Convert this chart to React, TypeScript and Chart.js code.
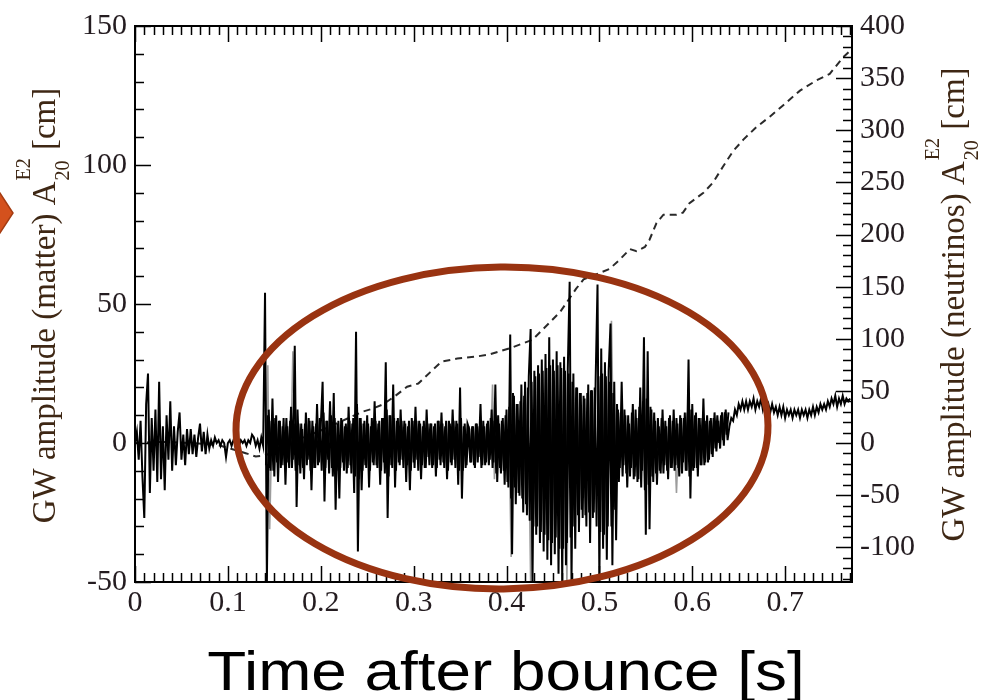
import { useEffect, useRef } from "react";
import { Chart, registerables } from "chart.js";

Chart.register(...registerables);

// Matter signal, sampled every 2 ms after bounce (cm)
const SIGNAL_START = 0;
const SIGNAL_STEP = 0.002;
const matterSignal = [
  0, 4, -6, 8, -12, -27, 14, 25, -18, 9,
  -10, 12, -14, 22, -13, 6, -17, 10, -6, 15,
  -10, 6, -8, 4, 11, -6, 3, -8, 5, -4,
  5, -4, 3, -5, 2, 7, -3, 4, -4, 3,
  -2, 1, -1, 2, 0, 1, -1, 1, 0, -5,
  0, 1, -1, 1, 0, 2, -1, 1, 0, 1,
  -1, 1, 0, 3, 2, -1, 1, -2, 2, -1,
  54, -50, 12, -10, 16, -12, 10, -14, 8, -8,
  9, -15, 6, -9, 13, -6, 35, -23, 7, -11,
  5, -13, 11, -6, 8, -17, 6, -9, 14, -7,
  6, 22, -21, 8, -6, 15, -9, 18, -24, 7,
  -20, 9, -7, 6, -11, 13, -8, 7, -18, 40,
  -39, 9, -17, 7, -8, 10, -16, 6, -7, 15,
  -8, 7, -15, 9, -7, 29, -27, 10, -8, 21,
  -16, 8, -7, 12, -6, 8, -14, 6, -17, 9,
  -7, 13, -6, 8, -13, 6, -9, 12, -5, 7,
  -9, 6, -12, 8, -6, 11, -7, 6, -13, 8,
  -7, 12, -6, 8, -15, 20, -20, 6, -9, 7,
  5, -7, 6, -9, 7, -5, 14, -8, 6, -7,
  8, -6, 12, -7, 21, -14, 7, -11, 9, -15,
  12, -16, 39, -40, 17, -22, 14, -19, 21, -25,
  22, -26, 24, 41, -50, 26, -33, 28, -36, 30,
  -39, 32, -42, 38, -44, 30, -40, 33, -47, 29,
  -50, 31, -44, 27, 58, -50, 25, -38, 20, -32,
  18, -27, 16, -30, 21, -36, 19, -25, 23, 57,
  -50, 34, -38, 29, -42, 26, 43, -44, 22, -35,
  12, -9, 22, -8, 10, -16, 7, -9, 14, -12,
  9, -13, 20, -10, 38, -33, 33, -31, 12, -14,
  8, -15, 6, -11, 12, -8, 6, -13, 10, -9,
  12, -8, 7, -12, 9, -7, 11, -10, 30, -20,
  14, -9, 11, -12, 9, -8, 16, -7, 10, -6,
  9, -5, 11, -3, 8, -2, 11, -1, 12, 1,
  6, 9, 8, 12, 10, 14, 12, 15, 12, 15,
  12, 15, 13, 16, 12, 15, 13, 16, 12, 15,
  12, 14, 11, 14, 11, 13, 10, 13, 10, 13,
  9, 12, 10, 12, 9, 12, 10, 12, 9, 12,
  10, 12, 9, 12, 10, 13, 10, 13, 11, 14,
  12, 14, 12, 15, 13, 16, 14, 17, 13, 16,
  14, 17, 14, 16, 15, 16,
];

// In-between samples of the same signal during the turbulent phase (cm)
const CORE_START = 0.141;
const CORE_STEP = 0.002;
const matterCoreSignal = [
  -8, 10, -9, 8, -10, 9, -7, 8, -9, 6,
  -8, 9, -7, 8, -9, 7, -10, 12, -8, 7,
  -9, 7, -8, 9, -10, 8, -9, 7, -8, 9,
  -10, 11, -9, 8, -11, 10, -12, 9, -10, 8,
  -9, 8, -10, 7, -9, 8, -11, 9, -12, 14,
  -13, 9, -10, 8, -9, 7, -10, 9, -8, 8,
  -9, 8, -10, 9, -11, 12, -12, 10, -9, 9,
  -10, 9, -8, 8, -9, 7, -8, 8, -10, 8,
  -9, 8, -10, 7, -8, 8, -9, 7, -8, 7,
  -8, 7, -9, 8, -8, 7, -9, 8, -10, 7,
  -8, 8, -9, 7, -10, 9, -10, 7, -8, 6,
  -7, 6, -8, 7, -7, 6, -9, 8, -8, 7,
  -8, 9, -9, 8, -11, 10, -9, 8, -10, 10,
  -14, 13, -20, 18, -16, 14, -18, 15, -20, 17,
  -22, 20, -28, 22, -30, 24, -30, 25, -32, 26,
  -33, 27, -35, 28, -36, 26, -34, 28, -38, 27,
  -38, 26, -36, 25, -34, 22, -30, 20, -26, 18,
  -24, 17, -26, 18, -25, 19, -27, 20, -30, 24,
  -32, 25, -33, 24, -30, 22, -30, 18, -24, 14,
  -14, 11, -12, 12, -11, 10, -12, 11, -13, 12,
  -14, 13, -16, 15, -17, 16, -15, 13, -12, 11,
  -11, 9, -10, 9, -11, 8, -10, 9, -9, 8,
  -10, 9, -9, 10, -11, 9, -10, 11, -12, 12,
  -10, 10, -9, 9, -8, 9, -8, 8, -7, 8,
  -4, 9, -2, 10, 0, 10, 1, 11, 3, 11,
];

// Second matter extraction (grey), only its isolated spikes; null breaks the line
const matterAltTimes = [
  0.141, 0.143, 0.145, 0.147, null,
  0.168, 0.170, 0.172, null,
  0.383, 0.385, 0.387, 0.389, null,
  0.403, 0.405, 0.407, null,
  0.424, 0.426, 0.428, null,
  0.463, 0.465, 0.467, null,
  0.511, 0.513, 0.515, null,
  0.581, 0.583, 0.585,
];
const matterAltValues = [
  0, 28, -31, 0, null,
  0, 33, 0, null,
  0, 21, -13, 0, null,
  0, -41, 0, null,
  0, -50, 0, null,
  0, -50, 0, null,
  0, 44, 0, null,
  0, -18, 0,
];

// Neutrino contribution (right axis, cm)
const neutrinoTimes = [
  0, 0.03, 0.06, 0.09, 0.105, 0.12, 0.13, 0.14, 0.16, 0.18,
  0.2, 0.22, 0.235, 0.245, 0.256, 0.267, 0.28, 0.293, 0.305, 0.318,
  0.33, 0.347, 0.368, 0.382, 0.404, 0.428, 0.447, 0.458, 0.475, 0.483,
  0.511, 0.522, 0.533, 0.54, 0.549, 0.554, 0.5615, 0.569, 0.583, 0.59,
  0.597, 0.612, 0.6225, 0.633, 0.644, 0.655, 0.669, 0.6835, 0.698, 0.716,
  0.734, 0.748, 0.7625, 0.772,
];
const neutrinoValues = [
  0, 1, 0, -2, -6, -10, -13, -12, -4, 5,
  12, 20, 26, 30, 33, 37, 45, 54, 57, 68,
  78, 81, 83, 85, 91, 99, 116, 126, 148, 157,
  167, 176, 186, 184, 188, 195, 211, 219, 219, 221,
  230, 240, 250, 265, 280, 291, 303, 313, 324, 338,
  348, 354, 370, 378,
];

const timeTicks = [0, 0.1, 0.2, 0.3, 0.4, 0.5, 0.6, 0.7];
const timeLabels = ["0", "0.1", "0.2", "0.3", "0.4", "0.5", "0.6", "0.7"];
const matterTicks = [-50, 0, 50, 100, 150];
const neutrinoTicks = [-100, -50, 0, 50, 100, 150, 200, 250, 300, 350, 400];

const TIME_MAX = 0.772;
const MATTER_MIN = -50;
const MATTER_MAX = 150;
const NEUTRINO_MIN = -400 / 3;
const NEUTRINO_MAX = 400;

const SERIF = '"Liberation Serif", "Times New Roman", serif';
const TICK_COLOR = "#241c20";
const TITLE_COLOR = "#3e2714";

// Inward major/minor tick marks on all four sides plus the frame
const frameTicks = {
  id: "frameTicks",
  afterDatasetsDraw(chart: any) {
    const { ctx, chartArea: a, scales } = chart;
    const xs = scales.x;
    const yl = scales.y;
    const yr = scales.y2;
    ctx.save();
    ctx.strokeStyle = "#000";
    ctx.lineWidth = 1.5;
    ctx.beginPath();
    for (let k = 0; k <= 77; k++) {
      const px = Math.round(xs.getPixelForValue(k / 100)) + 0.5;
      const len = k % 10 === 0 ? 16 : 9;
      ctx.moveTo(px, a.bottom);
      ctx.lineTo(px, a.bottom - len);
      ctx.moveTo(px, a.top);
      ctx.lineTo(px, a.top + len);
    }
    for (let v = -50; v <= 150; v += 10) {
      const py = Math.round(yl.getPixelForValue(v)) + 0.5;
      const len = v % 50 === 0 ? 16 : 9;
      ctx.moveTo(a.left, py);
      ctx.lineTo(a.left + len, py);
    }
    for (let v = -130; v <= 400; v += 10) {
      const py = Math.round(yr.getPixelForValue(v)) + 0.5;
      const len = v % 50 === 0 ? 16 : 9;
      ctx.moveTo(a.right, py);
      ctx.lineTo(a.right - len, py);
    }
    ctx.stroke();
    ctx.lineWidth = 2;
    ctx.strokeRect(a.left, a.top, a.right - a.left, a.bottom - a.top);
    ctx.restore();
  },
};

function drawVerticalTitle(ctx: CanvasRenderingContext2D, head: string, baseX: number, centerY: number) {
  const mainFont = `33px ${SERIF}`;
  const smallFont = `20px ${SERIF}`;
  ctx.save();
  ctx.translate(baseX, centerY);
  ctx.rotate(-Math.PI / 2);
  ctx.fillStyle = TITLE_COLOR;
  ctx.textAlign = "left";
  ctx.textBaseline = "alphabetic";
  ctx.font = mainFont;
  const wHead = ctx.measureText(head).width;
  const wTail = ctx.measureText(" [cm]").width;
  ctx.font = smallFont;
  const wScript = Math.max(ctx.measureText("E2").width, ctx.measureText("20").width);
  let x = -(wHead + wScript + wTail) / 2;
  ctx.font = mainFont;
  ctx.fillText(head, x, 0);
  x += wHead + 1;
  ctx.font = smallFont;
  ctx.fillText("E2", x, -25);
  ctx.fillText("20", x, 14);
  x += wScript;
  ctx.font = mainFont;
  ctx.fillText(" [cm]", x, 0);
  ctx.restore();
}

// Axis titles, the time label and the highlight ellipse
const annotations = {
  id: "annotations",
  afterDraw(chart: any) {
    const ctx: CanvasRenderingContext2D = chart.ctx;
    const a = chart.chartArea;
    drawVerticalTitle(ctx, "GW amplitude (matter) A", 55, (a.top + a.bottom) / 2 + 2);
    drawVerticalTitle(ctx, "GW amplitude (neutrinos) A", 964, (a.top + a.bottom) / 2 + 1);

    ctx.save();
    ctx.fillStyle = "#000";
    ctx.font = '56px "Liberation Sans", Arial, sans-serif';
    ctx.textAlign = "center";
    ctx.textBaseline = "alphabetic";
    ctx.translate(506, 690);
    ctx.scale(1.14, 1);
    ctx.fillText("Time after bounce [s]", 0, 0);
    ctx.restore();

    ctx.save();
    ctx.strokeStyle = "#993311";
    ctx.lineWidth = 7;
    ctx.beginPath();
    ctx.ellipse(502, 428, 266, 161, -0.01, 0, Math.PI * 2);
    ctx.stroke();
    ctx.restore();

    ctx.save();
    ctx.fillStyle = "#d4511d";
    ctx.strokeStyle = "#a53c12";
    ctx.lineWidth = 1.5;
    ctx.beginPath();
    ctx.moveTo(-2, 190);
    ctx.lineTo(13, 213);
    ctx.lineTo(-2, 236);
    ctx.closePath();
    ctx.fill();
    ctx.stroke();
    ctx.restore();
  },
};

export default function App() {
  const canvasRef = useRef<HTMLCanvasElement | null>(null);

  useEffect(() => {
    const canvas = canvasRef.current;
    if (!canvas) return;

    const matterPoints = matterSignal.map((v, i) => ({ x: SIGNAL_START + i * SIGNAL_STEP, y: v }));
    const corePoints = matterCoreSignal.map((v, i) => ({ x: CORE_START + i * CORE_STEP, y: v }));
    const altPoints = matterAltTimes.map((t, i) => ({ x: t === null ? NaN : t, y: matterAltValues[i] }));
    const neutrinoPoints = neutrinoTimes.map((t, i) => ({ x: t, y: neutrinoValues[i] }));

    const tickFont = { family: SERIF, size: 30 };

    const chart = new Chart(canvas, {
      type: "line",
      data: {
        datasets: [
          {
            data: matterPoints,
            borderColor: "#000",
            borderWidth: 2,
            pointRadius: 0,
            yAxisID: "y",
            order: 0,
          },
          {
            data: corePoints,
            borderColor: "#000",
            borderWidth: 2,
            pointRadius: 0,
            yAxisID: "y",
            order: 1,
          },
          {
            data: altPoints as any,
            borderColor: "#9c9c9c",
            borderWidth: 1.6,
            pointRadius: 0,
            spanGaps: false,
            yAxisID: "y",
            order: 2,
          },
          {
            data: neutrinoPoints,
            borderColor: "#2a2a2a",
            borderWidth: 2,
            borderDash: [7, 5],
            pointRadius: 0,
            yAxisID: "y2",
            order: 3,
          },
        ],
      },
      options: {
        animation: false,
        responsive: false,
        maintainAspectRatio: false,
        events: [],
        layout: { padding: { top: 22, left: 0, right: 0, bottom: 0 } },
        plugins: { legend: { display: false }, tooltip: { enabled: false } },
        elements: { line: { tension: 0 }, point: { radius: 0 } },
        scales: {
          x: {
            type: "linear",
            min: 0,
            max: TIME_MAX,
            grid: { display: false, drawTicks: false },
            border: { display: false },
            afterBuildTicks: (s: any) => {
              s.ticks = timeTicks.map((v) => ({ value: v }));
            },
            afterFit: (s: any) => {
              s.height = 118;
            },
            ticks: {
              autoSkip: false,
              maxRotation: 0,
              padding: 3,
              font: tickFont,
              color: TICK_COLOR,
              callback: (_v: any, i: number) => timeLabels[i],
            },
          },
          y: {
            type: "linear",
            position: "left",
            min: MATTER_MIN,
            max: MATTER_MAX,
            grid: { display: false, drawTicks: false },
            border: { display: false },
            afterBuildTicks: (s: any) => {
              s.ticks = matterTicks.map((v) => ({ value: v }));
            },
            afterFit: (s: any) => {
              s.width = 135;
            },
            ticks: {
              autoSkip: false,
              padding: 8,
              font: tickFont,
              color: TICK_COLOR,
              callback: (v: any) => String(v),
            },
          },
          y2: {
            type: "linear",
            position: "right",
            min: NEUTRINO_MIN,
            max: NEUTRINO_MAX,
            grid: { display: false, drawTicks: false },
            border: { display: false },
            afterBuildTicks: (s: any) => {
              s.ticks = neutrinoTicks.map((v) => ({ value: v }));
            },
            afterFit: (s: any) => {
              s.width = 130;
            },
            ticks: {
              autoSkip: false,
              padding: 8,
              font: tickFont,
              color: TICK_COLOR,
              callback: (v: any) => String(v),
            },
          },
        },
      },
      plugins: [frameTicks, annotations],
    } as any);

    return () => chart.destroy();
  }, []);

  return (
    <div style={{ position: "fixed", left: 0, top: 0, width: 982, height: 700, background: "#fff" }}>
      <canvas ref={canvasRef} width={982} height={700} />
    </div>
  );
}
